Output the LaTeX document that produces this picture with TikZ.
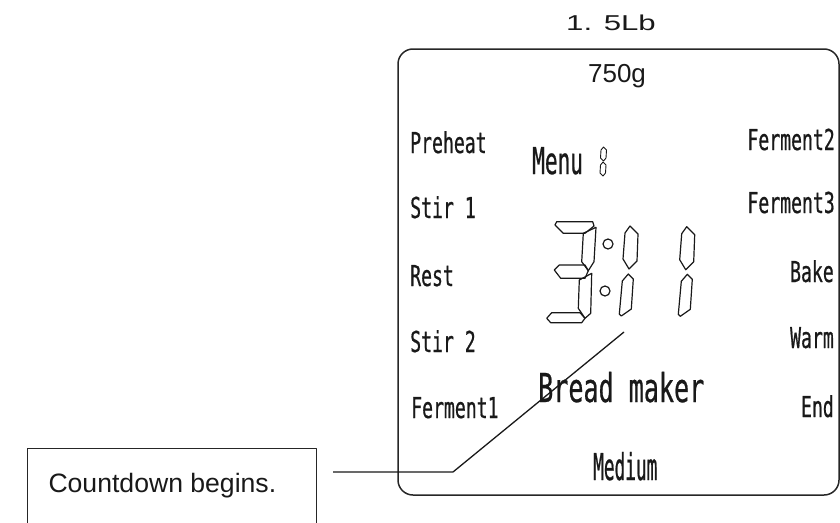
\documentclass[tikz,border=0pt]{standalone}
\usepackage{fontspec}
\setmainfont{Liberation Sans}
\newfontfamily\lcdfont[FakeStretch=0.63,FakeBold=0.6]{DejaVu Sans Mono}
\newfontfamily\menufont[FakeStretch=0.57,FakeBold=0.6]{DejaVu Sans Mono}
\newfontfamily\modefont[FakeStretch=0.48,FakeBold=0.6]{DejaVu Sans Mono}
\newfontfamily\widefont[FakeStretch=1.45]{Liberation Sans}
\begin{document}
\begin{tikzpicture}[x=1pt,y=-1pt,line join=round,
  seg/.style={draw=black!90,line width=1.2pt},
  lbl/.style={inner sep=0pt,text=black!90,font=\lcdfont\fontsize{28.8}{30}\selectfont},
  upseg/.pic={\draw[seg] (0,0) -- (8,8) -- (7,35) -- (-1,43) -- (-7,33) -- (-5,7) -- cycle;},
  lowseg/.pic={\draw[seg] (0,0) -- (5,5) -- (3,35) -- (-7,42) -- (-9,40) -- (-6,7) -- cycle;}]
\useasboundingbox (0,0) rectangle (840,522);
% display panel
\draw [black!85, line width=1.5pt, rounded corners=15] (398,49) rectangle (839,495);
\node [inner sep=0pt, anchor=base, font=\widefont\fontsize{21.5}{24}\selectfont, text=black!90] (size) at (611,30) {1. 5Lb};
\node [inner sep=0pt, anchor=base, font=\fontsize{26}{30}\selectfont, text=black!90] (weight) at (617,82) {750g};
% left column
\node [lbl, anchor=base west] (preheat) at (410,153) {Preheat};
\node [lbl, anchor=base west] (stira) at (410,218) {Stir 1};
\node [lbl, anchor=base west] (rest) at (410,286) {Rest};
\node [lbl, anchor=base west] (stirb) at (410,352) {Stir 2};
\node [lbl, anchor=base west] (fermenta) at (411,418) {Ferment1};
% right column
\node [lbl, anchor=base east] (fermentb) at (835,150) {Ferment2};
\node [lbl, anchor=base east] (fermentc) at (835,213) {Ferment3};
\node [lbl, anchor=base east] (bake) at (834,282) {Bake};
\node [lbl, anchor=base east] (warm) at (834,348) {Warm};
\node [lbl, anchor=base east] (end) at (834,417) {End};
% centre texts
\node [lbl, anchor=base west, font=\menufont\fontsize{37}{40}\selectfont] (menu) at (532,174) {Menu};
\node [lbl, anchor=base west, font=\lcdfont\fontsize{39.8}{42}\selectfont] (brand) at (538,402) {Bread maker};
\node [lbl, anchor=base west, font=\modefont\fontsize{37}{40}\selectfont] (mode) at (593,480) {Medium};
% small menu digit
\draw [seg, line width=0.9pt] (603.5,147) -- (606.5,150) -- (606,158) -- (603.5,161) -- (600.5,158) -- (601,150) -- cycle;
\draw [seg, line width=0.9pt] (603,162) -- (606,165) -- (605.5,173) -- (603,176) -- (600,173) -- (600.5,165) -- cycle;
% digit 3
\draw [seg] (556.7,221.7) -- (592.7,221.7) -- (594,226) -- (585,233.3) -- (563.3,233.3) -- (555,225) -- cycle;
\draw [seg] (596,227.3) -- (594,261.7) -- (588.3,270.7) -- (581.7,261.7) -- (583.3,233.3) -- cycle;
\draw [seg] (554.3,270) -- (559.3,265) -- (585,265) -- (588.3,270.7) -- (585,278.3) -- (560.7,278.3) -- cycle;
\draw [seg] (591.7,273.3) -- (590.7,313.3) -- (585,318.3) -- (578.3,308.3) -- (579.3,280) -- cycle;
\draw [seg] (546.7,318.3) -- (551.7,312.7) -- (580,312.7) -- (585,318.3) -- (581.7,322.7) -- (550.7,322.7) -- cycle;
% colon
\draw [seg] (608,244) circle [radius=5];
\draw [seg] (605,291) circle [radius=5];
% digits 1 and 1
\pic at (630,226) {upseg};
\pic at (628.3,274) {lowseg};
\pic at (686.7,226.7) {upseg};
\pic at (687.3,274.3) {lowseg};
% callout
\node [draw=black!85, line width=1.3pt, anchor=north west, minimum width=289pt, minimum height=100pt, inner sep=0pt] (callout) at (27,448) {};
\node [inner sep=0pt, anchor=base west, font=\fontsize{26.6}{30}\selectfont, text=black!90] (note) at (48.3,492.7) {Countdown begins.};
\coordinate (lead) at (333,472);
\coordinate (knee) at (453,472);
\coordinate (tip) at (624,332);
\draw [black!90, line width=1.3pt] (lead) -- (knee) -- (tip);
\end{tikzpicture}
\end{document}
